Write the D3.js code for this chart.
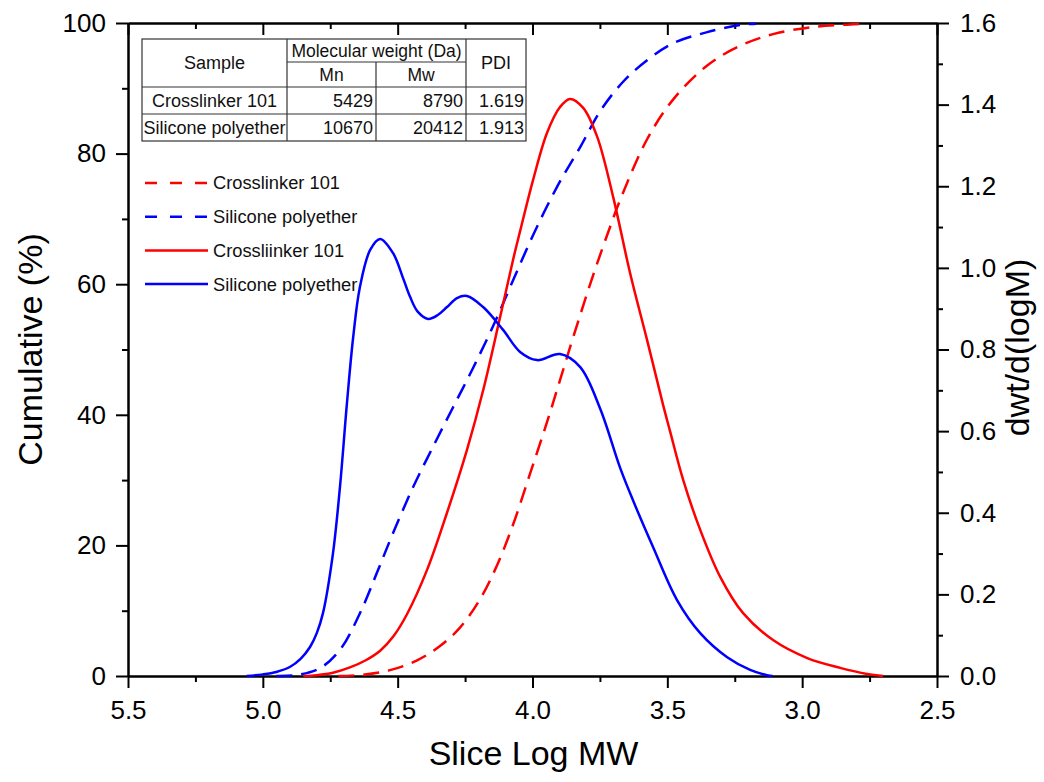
<!DOCTYPE html>
<html>
<head>
<meta charset="utf-8">
<script src="https://cdn.jsdelivr.net/npm/d3@7"></script>
<style>
  body { margin: 0; background: #fff; }
  svg { display: block; font-family: "Liberation Sans", Arial, sans-serif; }
</style>
</head>
<body>
<svg id="chart" width="1044" height="782"></svg>
<script>
// ---------- DATA ----------
const xMajorTicks = [5.5, 5.0, 4.5, 4.0, 3.5, 3.0, 2.5];
const xMinorTicks = [5.25, 4.75, 4.25, 3.75, 3.25, 2.75];
const leftMajorTicks = [0, 20, 40, 60, 80, 100];
const leftMinorTicks = [10, 30, 50, 70, 90];
const rightMajorTicks = [0, 0.2, 0.4, 0.6, 0.8, 1.0, 1.2, 1.4, 1.6];
const rightMinorTicks = [0.1, 0.3, 0.5, 0.7, 0.9, 1.1, 1.3, 1.5];

// Cumulative (%) - Crosslinker 101 (red dashed)
const cumCrossX = [4.72, 4.628, 4.528, 4.428, 4.343, 4.269, 4.194, 4.131, 4.072, 4.009, 3.946, 3.898, 3.849, 3.775, 3.712, 3.675, 3.575, 3.478, 3.352, 3.23, 3.108, 2.959, 2.833, 2.77];
const cumCrossY = [0, 0.2, 0.9, 2.4, 4.6, 7.4, 11.8, 17.0, 23.2, 31.0, 38.9, 45.3, 51.9, 61.4, 68.8, 72.9, 82.2, 88.3, 93.5, 96.5, 98.3, 99.4, 99.75, 99.9];

// Cumulative (%) - Silicone polyether (blue dashed)
const cumSilX = [4.95, 4.873, 4.788, 4.714, 4.64, 4.577, 4.517, 4.443, 4.369, 4.294, 4.22, 4.146, 4.072, 3.998, 3.909, 3.823, 3.749, 3.664, 3.575, 3.478, 3.352, 3.23, 3.17];
const cumSilY = [0, 0.15, 1.2, 4.0, 9.6, 15.8, 21.9, 28.9, 35.1, 41.2, 47.2, 53.6, 60.6, 67.5, 74.9, 81.0, 86.5, 91.0, 94.3, 96.9, 98.6, 99.7, 99.9];

// dwt/d(logM) - Crosslinker 101 (red solid)
const dwtCrossX = [4.85, 4.80, 4.74, 4.677, 4.62, 4.565, 4.515, 4.465, 4.391, 4.317, 4.243, 4.183, 4.12, 4.072, 4.046, 3.998, 3.946, 3.898, 3.861, 3.812, 3.76, 3.701, 3.638, 3.575, 3.516, 3.49, 3.441, 3.378, 3.304, 3.219, 3.108, 2.981, 2.859, 2.759, 2.70];
const dwtCrossY = [0, 0.002, 0.008, 0.021, 0.038, 0.062, 0.098, 0.152, 0.26, 0.40, 0.554, 0.70, 0.88, 1.02, 1.09, 1.215, 1.331, 1.394, 1.414, 1.392, 1.321, 1.174, 0.987, 0.823, 0.665, 0.60, 0.48, 0.358, 0.243, 0.154, 0.088, 0.044, 0.02, 0.005, 0];

// dwt/d(logM) - Silicone polyether (blue solid)
const dwtSilX = [5.06, 5.0, 4.95, 4.90, 4.86, 4.825, 4.80, 4.777, 4.74, 4.714, 4.688, 4.665, 4.64, 4.602, 4.565, 4.517, 4.48, 4.454, 4.425, 4.387, 4.35, 4.317, 4.28, 4.243, 4.183, 4.109, 4.046, 3.983, 3.898, 3.823, 3.749, 3.675, 3.627, 3.553, 3.464, 3.378, 3.278, 3.193, 3.13, 3.11];
const dwtSilY = [0, 0.004, 0.010, 0.022, 0.042, 0.071, 0.105, 0.154, 0.30, 0.463, 0.669, 0.83, 0.953, 1.044, 1.071, 1.036, 0.975, 0.929, 0.892, 0.875, 0.885, 0.904, 0.926, 0.931, 0.904, 0.848, 0.794, 0.774, 0.789, 0.757, 0.655, 0.51, 0.43, 0.316, 0.186, 0.105, 0.046, 0.015, 0.002, 0];

const legendLabels = ["Crosslinker 101", "Silicone polyether", "Crossliinker 101", "Silicone polyether"];
const tableHead1 = ["Sample", "Molecular weight (Da)", "PDI"];
const tableHead2 = ["Mn", "Mw"];
const tableSamples = ["Crosslinker 101", "Silicone polyether"];
const tableMn = ["5429", "10670"];
const tableMw = ["8790", "20412"];
const tablePDI = ["1.619", "1.913"];

const xTitle = "Slice Log MW";
const yLeftTitle = "Cumulative (%)";
const yRightTitle = "dwt/d(logM)";

// ---------- LAYOUT ----------
const L = 128, R = 937, T = 23, B = 676;
const RED = "#ff0000", BLUE = "#0000ff";

const svg = d3.select("#chart");

const x = d3.scaleLinear().domain([5.5, 2.5]).range([L, R]);
const yL = d3.scaleLinear().domain([0, 100]).range([B, T]);
const yR = d3.scaleLinear().domain([0, 1.6]).range([B, T]);

function styleAxis(g) {
  g.selectAll("path").attr("stroke", "#000").attr("stroke-width", 2);
  g.selectAll("line").attr("stroke", "#000").attr("stroke-width", 2);
  g.selectAll("text").attr("fill", "#000").attr("font-size", 26)
    .attr("font-family", "'Liberation Sans', Arial, sans-serif");
}

// bottom axis
svg.append("g").attr("transform", `translate(0,${B})`)
  .call(d3.axisBottom(x).tickValues(xMinorTicks).tickSize(6).tickSizeOuter(0).tickFormat(""))
  .call(styleAxis);
svg.append("g").attr("transform", `translate(0,${B})`)
  .call(d3.axisBottom(x).tickValues(xMajorTicks).tickSize(12).tickSizeOuter(0).tickPadding(13).tickFormat(d3.format(".1f")))
  .call(styleAxis);

// top axis (ticks inward, no labels)
svg.append("g").attr("transform", `translate(0,${T})`)
  .call(d3.axisBottom(x).tickValues(xMinorTicks).tickSize(6).tickSizeOuter(0).tickFormat(""))
  .call(styleAxis);
svg.append("g").attr("transform", `translate(0,${T})`)
  .call(d3.axisBottom(x).tickValues(xMajorTicks).tickSize(12).tickSizeOuter(0).tickFormat(""))
  .call(styleAxis);

// left axis
svg.append("g").attr("transform", `translate(${L},0)`)
  .call(d3.axisLeft(yL).tickValues(leftMinorTicks).tickSize(6).tickSizeOuter(0).tickFormat(""))
  .call(styleAxis);
svg.append("g").attr("transform", `translate(${L},0)`)
  .call(d3.axisLeft(yL).tickValues(leftMajorTicks).tickSize(12).tickSizeOuter(0).tickPadding(10).tickFormat(d3.format("d")))
  .call(styleAxis);

// right axis
svg.append("g").attr("transform", `translate(${R},0)`)
  .call(d3.axisRight(yR).tickValues(rightMinorTicks).tickSize(6).tickSizeOuter(0).tickFormat(""))
  .call(styleAxis);
svg.append("g").attr("transform", `translate(${R},0)`)
  .call(d3.axisRight(yR).tickValues(rightMajorTicks).tickSize(12).tickSizeOuter(0).tickPadding(11).tickFormat(d3.format(".1f")))
  .call(styleAxis);

// axis titles
svg.append("text").attr("x", (L + R) / 2 + 1).attr("y", 765).attr("text-anchor", "middle")
  .attr("font-size", 34).text(xTitle);
svg.append("text").attr("transform", `translate(42,${(T + B) / 2}) rotate(-90)`)
  .attr("text-anchor", "middle").attr("font-size", 34).text(yLeftTitle);
svg.append("text").attr("transform", `translate(1029,${(T + B) / 2 - 2}) rotate(-90)`)
  .attr("text-anchor", "middle").attr("font-size", 34).text(yRightTitle);

// ---------- CURVES ----------
function series(xs, ys) { return xs.map((v, i) => [v, ys[i]]); }
const curveType = d3.curveCatmullRom.alpha(0.5);
const lineL = d3.line().x(d => x(d[0])).y(d => yL(d[1])).curve(curveType);
const lineR = d3.line().x(d => x(d[0])).y(d => yR(d[1])).curve(curveType);

const curves = [
  { data: series(cumCrossX, cumCrossY), gen: lineL, color: RED, dash: "16,9" },
  { data: series(cumSilX, cumSilY), gen: lineL, color: BLUE, dash: "16,9" },
  { data: series(dwtCrossX, dwtCrossY), gen: lineR, color: RED, dash: null },
  { data: series(dwtSilX, dwtSilY), gen: lineR, color: BLUE, dash: null }
];

svg.append("g").selectAll("path").data(curves).join("path")
  .attr("d", c => c.gen(c.data))
  .attr("fill", "none")
  .attr("stroke", c => c.color)
  .attr("stroke-width", 2.5)
  .attr("stroke-linejoin", "round")
  .attr("stroke-dasharray", c => c.dash);

// ---------- LEGEND ----------
const lg = svg.append("g");
legendLabels.forEach((lab, i) => {
  const yy = 183 + i * 33.7;
  lg.append("line").attr("x1", 145).attr("x2", 208).attr("y1", yy).attr("y2", yy)
    .attr("stroke", curves[i].color).attr("stroke-width", 2.5)
    .attr("stroke-dasharray", curves[i].dash ? "12,13" : null);
  lg.append("text").attr("x", 213).attr("y", yy).attr("dy", "0.35em")
    .attr("font-size", 18.3).attr("fill", "#111").text(lab);
});

// ---------- TABLE ----------
const tb = svg.append("g").attr("font-size", 18).attr("fill", "#111");
const cx = [142, 287, 376, 466, 526];
const ry = [39, 62, 87, 114, 141];
const stroke = "#333";
function hl(x1, x2, y) { tb.append("line").attr("x1", x1).attr("x2", x2).attr("y1", y).attr("y2", y).attr("stroke", stroke).attr("stroke-width", 1.2); }
function vl(xv, y1, y2) { tb.append("line").attr("x1", xv).attr("x2", xv).attr("y1", y1).attr("y2", y2).attr("stroke", stroke).attr("stroke-width", 1.2); }
tb.append("rect").attr("x", cx[0]).attr("y", ry[0]).attr("width", cx[4] - cx[0]).attr("height", ry[4] - ry[0])
  .attr("fill", "#fff").attr("stroke", stroke).attr("stroke-width", 1.2);
hl(cx[1], cx[3], ry[1]);
hl(cx[0], cx[4], ry[2]);
hl(cx[0], cx[4], ry[3]);
vl(cx[1], ry[0], ry[4]);
vl(cx[2], ry[1], ry[4]);
vl(cx[3], ry[0], ry[4]);
function txt(xv, yv, s, anchor, fs) {
  const t = tb.append("text").attr("x", xv).attr("y", yv).attr("dy", "0.35em").attr("text-anchor", anchor).text(s);
  if (fs) t.attr("font-size", fs);
}
txt((cx[0] + cx[1]) / 2, (ry[0] + ry[2]) / 2, tableHead1[0], "middle");
txt((cx[1] + cx[3]) / 2, (ry[0] + ry[1]) / 2, tableHead1[1], "middle", 17.5);
txt((cx[3] + cx[4]) / 2, (ry[0] + ry[2]) / 2, tableHead1[2], "middle");
txt((cx[1] + cx[2]) / 2, (ry[1] + ry[2]) / 2, tableHead2[0], "middle", 17.5);
txt((cx[2] + cx[3]) / 2, (ry[1] + ry[2]) / 2, tableHead2[1], "middle", 17.5);
tableSamples.forEach((s, i) => {
  const yy = (ry[2 + i] + ry[3 + i]) / 2;
  txt((cx[0] + cx[1]) / 2, yy, s, "middle");
  txt(cx[2] - 3, yy, tableMn[i], "end");
  txt(cx[3] - 3, yy, tableMw[i], "end");
  txt(cx[4] - 2, yy, tablePDI[i], "end");
});
</script>
</body>
</html>
